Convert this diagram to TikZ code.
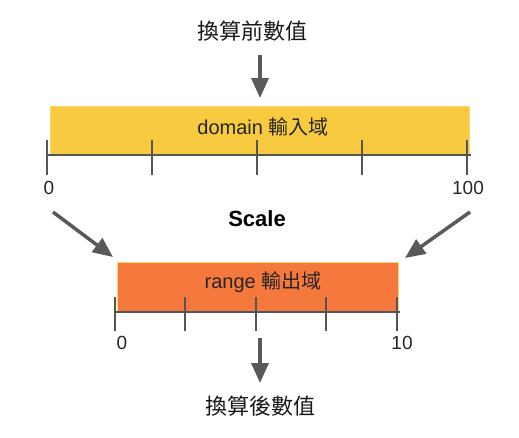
\documentclass[tikz,border=0pt]{standalone}
\usepackage{fontspec}
\setmainfont{Liberation Sans}
\newfontfamily\cjk{Noto Sans CJK TC}
\usetikzlibrary{arrows.meta}
\definecolor{domfill}{HTML}{F7CA40}
\definecolor{domline}{HTML}{F9D46A}
\definecolor{rngfill}{HTML}{F5793D}
\definecolor{rngline}{HTML}{FFD966}
\definecolor{axisgray}{HTML}{555555}
\definecolor{arrgray}{HTML}{595959}
\begin{document}
\begin{tikzpicture}[x=1pt,y=-1pt,
  bar/.style={inner sep=0pt, line width=1pt, anchor=center},
  title/.style={inner sep=0pt, font=\cjk\fontsize{22}{26}\selectfont, text=black!90},
  lab/.style={inner sep=0pt, font=\fontsize{19}{23}\selectfont, text=black!85},
  axisline/.style={draw=axisgray, line width=2.5pt},
  tickline/.style={draw=axisgray, line width=2pt},
  bigarrow/.style={draw=arrgray, line width=3.5pt, -{Triangle[length=20pt,width=17pt]}, shorten >=0pt}
]
\useasboundingbox (0,0) rectangle (519,437);
% titles
\node[title] (before) at (252,31) {換算前數值};
\node[title] (after) at (260,406) {換算後數值};
\node[inner sep=0pt, font=\bfseries\fontsize{22}{26}\selectfont] (scale) at (257,219) {Scale};
% domain bar
\node[bar, fill=domfill, draw=domline, minimum width=419pt, minimum height=49pt] (domain) at (259.5,130.5) {};
\node[inner sep=0pt, font=\fontsize{20}{24}\selectfont, text=black!85] (domtext) at (263,127) {domain {\cjk 輸入域}};
\coordinate (dl) at (47,155);
\coordinate (dr) at (471,155);
\draw[axisline] (dl) -- (dr);
\foreach \x in {47,152,257,362,467}{\draw[tickline] (\x,140) -- (\x,175);}
\node[lab] (d0) at (49,188) {0};
\node[lab] (d100) at (468,188) {100};
% range bar
\node[bar, fill=rngfill, draw=rngline, minimum width=281pt, minimum height=50pt] (range) at (257.5,287) {};
\node[inner sep=0pt, font=\fontsize{20}{24}\selectfont, text=black!85] (rngtext) at (263,282) {range {\cjk 輸出域}};
\coordinate (rl) at (115,312);
\coordinate (rr) at (400,312);
\draw[axisline] (rl) -- (rr);
\foreach \x in {115,185,256,326,397}{\draw[tickline] (\x,297) -- (\x,331);}
\node[lab] (r0) at (122,343) {0};
\node[lab] (r10) at (402,343) {10};
% arrows
\coordinate (ta) at (260,55);
\coordinate (tb) at (260,98);
\draw[bigarrow] (ta) -- (tb);
\coordinate (ba) at (260,338);
\coordinate (bb) at (260,383);
\draw[bigarrow] (ba) -- (bb);
\coordinate (la) at (53,212);
\coordinate (lb) at (113,257);
\draw[bigarrow] (la) -- (lb);
\coordinate (ra) at (470,212);
\coordinate (rb) at (405,258);
\draw[bigarrow] (ra) -- (rb);
\end{tikzpicture}
\end{document}
